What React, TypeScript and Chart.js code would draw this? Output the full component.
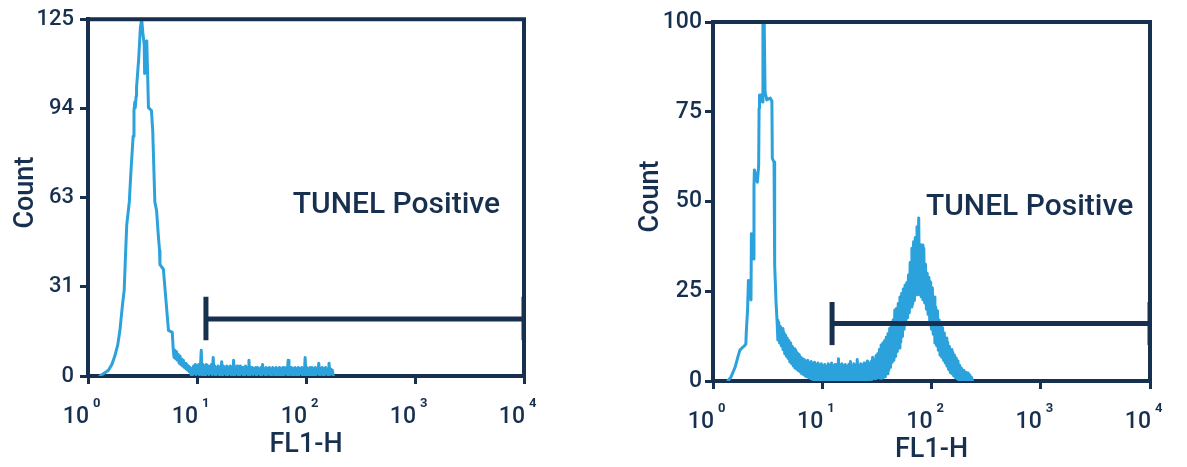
import React, { useEffect, useRef } from 'react';
import { Chart, registerables } from 'chart.js';

Chart.register(...registerables);

const NAVY = '#18304f';
const BLUE = '#2ca2dc';
const FONT = 'Roboto, "Noto Sans", sans-serif';

// x axis: 1024-channel 4-decade log display (channel 0 = 10^0, 256 channels per decade)
const xTickChannels = [0, 256, 512, 768, 1024];
const xTickBase = '10';
const xTickExponents = ['0', '1', '2', '3', '4'];
const xTitle = 'FL1-H';
const yTitle = 'Count';
const gateLabel = 'TUNEL Positive';

const leftYTicks = [0, 31.25, 62.5, 93.75, 125];
const rightYTicks = [0, 25, 50, 75, 100];

// Main peak outlines: [channel, count]
const leftPeak: [number, number][] = [
  [28, 0], [38, 1], [48, 2], [56, 4], [63, 7], [70, 11], [75, 16], [81, 25], [85, 30], [88, 42],
  [91, 53], [94, 57], [97, 61], [101, 72], [106, 84], [108, 93], [110, 96], [111, 94], [113, 98],
  [114, 101], [119, 111], [123, 122], [126, 125], [129, 120], [132, 116], [133, 106], [135, 116.7],
  [138, 117.4], [140, 106], [142, 94], [149, 93], [152, 86], [157, 61], [161, 58], [165, 49.5],
  [168, 44], [169, 39], [177, 37.4], [189, 16], [198, 15.3], [200, 9.7],
];

const rightPeak: [number, number][] = [
  [35, 0], [42, 1.1], [52, 3.9], [59, 7], [63, 8.6], [68, 9.2], [73, 9.7], [77, 10.3], [78, 13.6],
  [81, 19.8], [83, 28], [89, 22.6], [90, 41], [95, 34], [96, 54], [97, 58.8], [104, 55.4], [107, 60],
  [108, 76], [109, 79.7], [114, 79.7], [116, 77.7], [117, 100], [120, 100], [122, 80.5], [126, 78.3],
  [134, 78.8], [138, 78], [139, 62], [143, 61], [144, 49], [145, 32.3], [148, 21.2], [150, 17],
];

// Noisy tails: counts in 2-channel bins
const binChannels = 2;
const leftTailStart = 202;
const leftTailCounts = [
  6.5, 9, 6, 8.5, 5.5, 7.5, 4.5, 7, 4, 6, 3.5, 5.5, 3, 4.5, 2.5, 4, 2, 3.5, 1.5, 3, 0.5, 2.5,
  0.5, 3.5, 1, 4, 0.5, 3.5, 1, 4, 0.5, 3,
  9, 0.5, 4, 1, 3.5, 0, 4, 1, 3.5, 0.5,
  3, 1, 4, 0.5, 6.5, 1, 3.5, 0, 3, 1,
  3.5, 0.5, 3, 1, 5, 0, 3.5, 1, 3, 0.5,
  3.5, 0, 3, 1, 3.5, 0.5, 3, 1, 5.5, 0,
  3, 1, 3.5, 0.5, 3, 0, 3.5, 1, 3, 0.5,
  3, 0, 3.5, 1, 3, 0.5, 5.5, 0, 3, 1,
  3, 0.5, 2.5, 1, 3, 0, 3, 1, 2.5, 0.5,
  3, 0, 4, 1, 2.5, 0.5, 3, 0, 2.5, 1,
  3, 0.5, 2.5, 0, 3, 1, 2.5, 0, 3, 0.5,
  2.5, 1, 3, 0, 2.5, 0.5, 3, 0, 2.5, 1,
  3, 0.5, 5.5, 0, 2.5, 1, 3, 0, 2.5, 0.5,
  3, 1, 2.5, 0, 3, 0.5, 2.5, 1, 3, 0,
  2.5, 0.5, 6.5, 0, 3, 1, 2.5, 0.5, 3, 0,
  3, 1, 2.5, 0, 3, 0.5, 2.5, 1, 4.5, 0,
  2.5, 1, 3, 0, 2.5, 0.5, 3, 1, 2.5, 0,
  4.5, 0.5, 2.5, 1, 2, 0,
];

const rightTailStart = 152;
const rightTailCounts = [
  11.4, 16.4, 10.6, 15.2, 9.8, 14.6, 8.8, 13.6, 7.6, 12.8,
  6.9, 12.0, 6.3, 11.2, 5.3, 10.6, 4.9, 9.6, 4.2, 9.0,
  3.6, 8.6, 3.3, 7.8, 2.9, 7.4, 2.5, 6.6, 2.0, 6.2,
  1.8, 6.0, 1.4, 5.4, 1.2, 5.8, 1.0, 5.0, 0.7, 5.4,
  0.5, 4.8, 0.4, 5.2, 0.3, 4.6, 0.2, 5.0, 0, 4.4,
  0, 4.8, 0.2, 4.2, 0, 4.6, 0.3, 4.0, 0, 4.8,
  0.2, 4.4, 0, 5.0, 0.3, 4.2, 0, 4.6, 0.2, 4.0,
  0, 6.2, 0.2, 4.4, 0, 4.8, 0.4, 4.2, 0, 4.6,
  0.2, 4.0, 0, 4.6, 0.3, 5.4, 0, 4.2, 0.2, 4.8,
  0, 4.4, 0.4, 6.0, 0, 4.2, 0.2, 4.8, 0, 4.4,
  0.3, 5.0, 0, 4.6, 0.4, 5.6, 0.2, 4.8, 0.5, 5.4,
  0.4, 6.6, 0.8, 5.8, 0.6, 7.0, 0.8, 7.6, 1.0, 8.8,
  0.8, 10.0, 0.8, 10.6, 1.0, 11.2, 1.2, 12.2, 2.0, 13.2,
  3.0, 14.6, 3.8, 16.0, 5.2, 17.0, 5.8, 19.8, 6.8, 20.2,
  8.2, 21.6, 9.2, 23.4, 10.8, 24.4, 12.4, 25.6, 14.4, 26.7,
  16.6, 27.4, 17.6, 29.5, 19.0, 33.0, 20.6, 37.0, 21.4, 38.8,
  22.4, 40.0, 24.0, 43.0, 24.5, 45.4, 24.0, 38.0, 23.4, 37.9,
  22.6, 37.0, 21.7, 32.5, 20.0, 30.0, 18.5, 28.8, 15.6, 27.6,
  14.4, 26.0, 13.0, 23.4, 10.6, 20.6, 9.8, 19.6, 8.6, 17.0,
  7.2, 15.6, 6.6, 14.8, 5.8, 13.4, 5.0, 12.0, 4.2, 10.8,
  3.2, 9.6, 2.4, 8.8, 2.0, 8.0, 1.4, 7.2, 1.0, 6.4,
  0.6, 5.6, 0.3, 4.4, 0, 3.6, 0, 3.0, 0.2, 2.6,
  0, 2.4, 0.4, 2.2, 0, 1.6, 0.2, 1.0, 0,
];

// gate marker: [start channel, end channel] and [bar bottom, line level, bar top]
const leftGateX = [277, 1024];
const leftGateY = [12.5, 20, 27.8];
const rightGateX = [279, 1024];
const rightGateY = [10, 16, 22];

// label anchor [channel, count]
const leftLabelAt = [481, 57];
const rightLabelAt = [499, 46.2];

function buildHistogram(peak: [number, number][], tailStart: number, tail: number[]) {
  const pts = peak.map(([x, y]) => ({ x, y }));
  tail.forEach((y, i) => pts.push({ x: tailStart + i * binChannels, y }));
  return pts;
}

type Panel = {
  hist: { x: number; y: number }[];
  yMax: number;
  yTicks: number[];
  gateX: number[];
  gateY: number[];
  labelAt: number[];
  width: number;
  areaLeft: number;
  padTop: number;
  padRight: number;
  xAxisHeight: number;
  yFontSize: number;
  yPad: number;
};

function makeDecor(p: Panel) {
  return {
    id: 'decor',
    afterDraw(chart: any) {
      const { ctx, chartArea: a, scales } = chart;
      const xs = scales.x;
      const ys = scales.y;
      ctx.save();
      ctx.strokeStyle = NAVY;
      ctx.lineWidth = 4;
      ctx.lineCap = 'butt';
      ctx.beginPath();
      ctx.moveTo(a.left - 2, a.top);
      ctx.lineTo(a.right, a.top);
      ctx.lineTo(a.right, a.bottom + 2);
      ctx.stroke();

      ctx.fillStyle = NAVY;
      ctx.textBaseline = 'alphabetic';
      xTickChannels.forEach((ch, i) => {
        const px = xs.getPixelForValue(ch);
        ctx.font = `500 23px ${FONT}`;
        ctx.textAlign = 'right';
        ctx.fillText(xTickBase, px + 1, a.bottom + 47);
        ctx.font = `700 13px ${FONT}`;
        ctx.textAlign = 'left';
        ctx.fillText(xTickExponents[i], px + 5, a.bottom + 31);
      });

      ctx.font = `500 27px ${FONT}`;
      ctx.textAlign = 'center';
      ctx.fillText(xTitle, (a.left + a.right) / 2, a.bottom + 76);

      ctx.save();
      ctx.translate(a.left - 55, (a.top + a.bottom) / 2 - 5);
      ctx.rotate(-Math.PI / 2);
      ctx.font = `500 27px ${FONT}`;
      ctx.textAlign = 'center';
      ctx.fillText(yTitle, 0, 0);
      ctx.restore();

      ctx.font = `500 30px ${FONT}`;
      ctx.textAlign = 'left';
      ctx.fillText(gateLabel, xs.getPixelForValue(p.labelAt[0]), ys.getPixelForValue(p.labelAt[1]));
      ctx.restore();
    },
  };
}

function HistChart({ p, left }: { p: Panel; left: number }) {
  const ref = useRef<HTMLCanvasElement | null>(null);
  useEffect(() => {
    if (!ref.current) return;
    const gx = p.gateX;
    const gy = p.gateY;
    const chart = new Chart(ref.current, {
      type: 'line',
      data: {
        datasets: [
          {
            data: [{ x: gx[0], y: gy[1] }, { x: gx[1], y: gy[1] }],
            borderColor: NAVY, borderWidth: 5, pointRadius: 0, order: 0,
          },
          {
            data: [{ x: gx[0], y: gy[0] }, { x: gx[0], y: gy[2] }],
            borderColor: NAVY, borderWidth: 5, pointRadius: 0, order: 0,
          },
          {
            data: [{ x: gx[1], y: gy[0] }, { x: gx[1], y: gy[2] }],
            borderColor: NAVY, borderWidth: 5, pointRadius: 0, order: 0,
          },
          {
            data: p.hist,
            borderColor: BLUE, borderWidth: 3, pointRadius: 0, order: 1,
            borderJoinStyle: 'round', borderCapStyle: 'round',
          },
        ],
      } as any,
      options: {
        animation: false,
        responsive: false,
        maintainAspectRatio: false,
        devicePixelRatio: 1,
        events: [],
        parsing: false,
        normalized: true,
        elements: { line: { tension: 0 } },
        layout: { padding: { left: 0, top: p.padTop, right: p.padRight, bottom: 0 } },
        plugins: { legend: { display: false }, tooltip: { enabled: false } },
        scales: {
          x: {
            type: 'linear',
            min: 0,
            max: 1024,
            afterBuildTicks: (s: any) => { s.ticks = xTickChannels.map((v) => ({ value: v })); },
            afterFit: (s: any) => { s.height = p.xAxisHeight; },
            ticks: { display: false },
            grid: { drawOnChartArea: false, drawTicks: true, tickLength: 8, color: NAVY, lineWidth: 3 },
            border: { display: true, color: NAVY, width: 4 },
          },
          y: {
            type: 'linear',
            min: 0,
            max: p.yMax,
            afterBuildTicks: (s: any) => { s.ticks = p.yTicks.map((v) => ({ value: v })); },
            afterFit: (s: any) => { s.width = p.areaLeft; },
            ticks: {
              callback: (v: any) => String(Math.round(Number(v))),
              color: NAVY,
              padding: p.yPad,
              font: { family: FONT, size: p.yFontSize, weight: '500' },
            },
            grid: { drawOnChartArea: false, drawTicks: true, tickLength: 8, color: NAVY, lineWidth: 3 },
            border: { display: true, color: NAVY, width: 4 },
          },
        },
      } as any,
      plugins: [makeDecor(p)],
    });
    return () => chart.destroy();
  }, [p]);
  return (
    <canvas
      ref={ref}
      width={p.width}
      height={467}
      style={{ position: 'absolute', left, top: 0, width: p.width, height: 467 }}
    />
  );
}

const leftPanel: Panel = {
  hist: buildHistogram(leftPeak, leftTailStart, leftTailCounts),
  yMax: 125, yTicks: leftYTicks, gateX: leftGateX, gateY: leftGateY,
  labelAt: leftLabelAt, width: 593, areaLeft: 88, padTop: 16, padRight: 69, xAxisHeight: 91,
  yFontSize: 22, yPad: 6,
};
const rightPanel: Panel = {
  hist: buildHistogram(rightPeak, rightTailStart, rightTailCounts),
  yMax: 100, yTicks: rightYTicks, gateX: rightGateX, gateY: rightGateY,
  labelAt: rightLabelAt, width: 594, areaLeft: 120, padTop: 22, padRight: 37, xAxisHeight: 86,
  yFontSize: 23, yPad: 3,
};

export default function App() {
  return (
    <div style={{ position: 'fixed', left: 0, top: 0, width: 1187, height: 467, background: '#fff' }}>
      <HistChart p={leftPanel} left={0} />
      <HistChart p={rightPanel} left={593} />
    </div>
  );
}
